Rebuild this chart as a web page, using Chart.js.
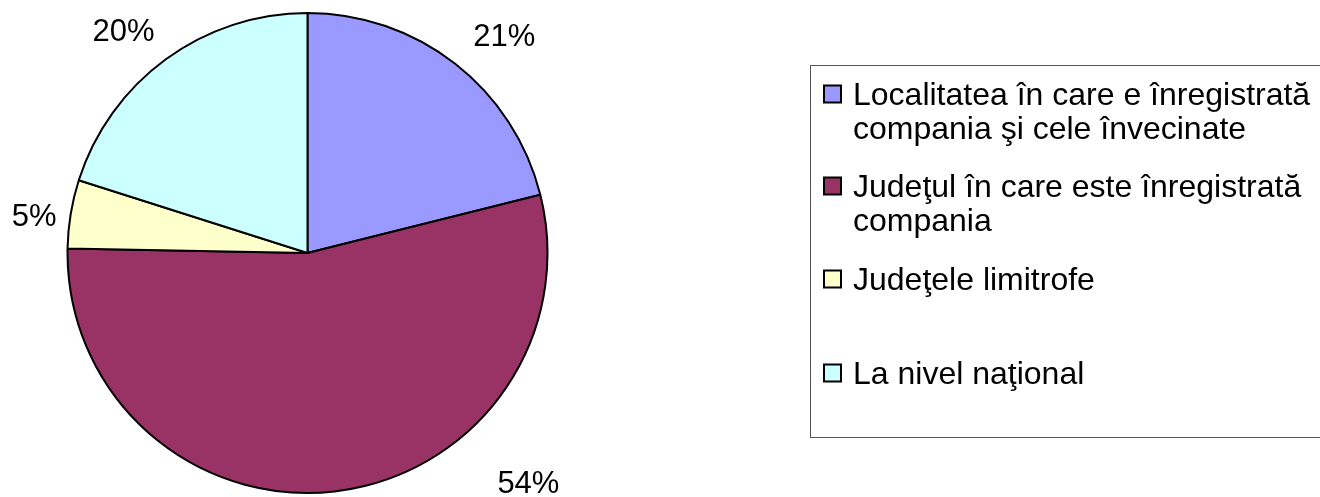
<!DOCTYPE html>
<html>
<head>
<meta charset="utf-8">
<script src="https://cdn.jsdelivr.net/npm/chart.js@4.4.1/dist/chart.umd.min.js"></script>
<style>
  html, body { margin: 0; padding: 0; background: #ffffff; }
  #wrap { position: relative; width: 1320px; height: 497px; }
  canvas { display: block; }
</style>
</head>
<body>
<div id="wrap"><canvas id="c" width="1320" height="497"></canvas></div>
<script>
// ---- data ----
const categories = [
  ["Localitatea în care e înregistrată", "compania şi cele învecinate"],
  ["Judeţul în care este înregistrată", "compania"],
  ["Judeţele limitrofe"],
  ["La nivel naţional"]
];
const shares = [21.1, 54.2, 4.6, 20.1];
const sliceColors = ["#9999FF", "#993366", "#FFFFCC", "#CCFFFF"];

// ---- outside percentage labels ----
const pctLabelPlugin = {
  id: 'pctLabels',
  afterDatasetsDraw(chart) {
    const meta = chart.getDatasetMeta(0);
    const place = [
      { a: 42, d: 1.225 },
      { a: 136, d: 1.325 },
      { a: 278, d: 1.15 },
      { a: 320.5, d: 1.205 }
    ];
    const ctx = chart.ctx;
    ctx.save();
    ctx.font = '31px "Liberation Sans", Arial, sans-serif';
    ctx.fillStyle = '#000';
    ctx.textAlign = 'center';
    ctx.textBaseline = 'alphabetic';
    meta.data.forEach((arc, i) => {
      const p = place[i];
      const r = arc.outerRadius * p.d;
      const ang = (p.a - 90) * Math.PI / 180;
      const x = arc.x + r * Math.cos(ang);
      const y = arc.y + r * Math.sin(ang);
      const txt = Math.round(chart.data.datasets[0].data[i]) + '%';
      ctx.fillText(txt, x, y + 11);
    });
    ctx.restore();
  }
};

// ---- legend box drawn on canvas ----
const legendPlugin = {
  id: 'boxLegend',
  afterDraw(chart) {
    const ctx = chart.ctx;
    const box = { x: 810.5, y: 65.5, w: 600, h: 372 };
    const baseY = [105, 197, 290, 384];
    const lineH = 34;
    ctx.save();
    ctx.strokeStyle = '#555';
    ctx.lineWidth = 1;
    ctx.strokeRect(box.x, box.y, box.w, box.h);
    ctx.font = '32px "Liberation Sans", Arial, sans-serif';
    ctx.textBaseline = 'alphabetic';
    ctx.textAlign = 'left';
    chart.data.labels.forEach((lab, i) => {
      const b = baseY[i];
      const s = 17;
      const top = b - 11 - s / 2;
      ctx.fillStyle = chart.data.datasets[0].backgroundColor[i];
      ctx.fillRect(824, top, s, s);
      ctx.strokeStyle = '#000';
      ctx.lineWidth = 2;
      ctx.strokeRect(824, top, s, s);
      ctx.fillStyle = '#000';
      lab.forEach((ln, k) => ctx.fillText(ln, 853, b + k * lineH));
    });
    ctx.restore();
  }
};

new Chart(document.getElementById('c'), {
  type: 'pie',
  data: {
    labels: categories,
    datasets: [{
      data: shares,
      backgroundColor: sliceColors,
      borderColor: '#000000',
      borderWidth: 2
    }]
  },
  options: {
    responsive: false,
    animation: false,
    rotation: 0,
    layout: { padding: { left: 65, right: 770, top: 12, bottom: 3 } },
    plugins: {
      legend: { display: false },
      tooltip: { enabled: false },
      title: { display: false }
    }
  },
  plugins: [pctLabelPlugin, legendPlugin]
});
</script>
</body>
</html>
